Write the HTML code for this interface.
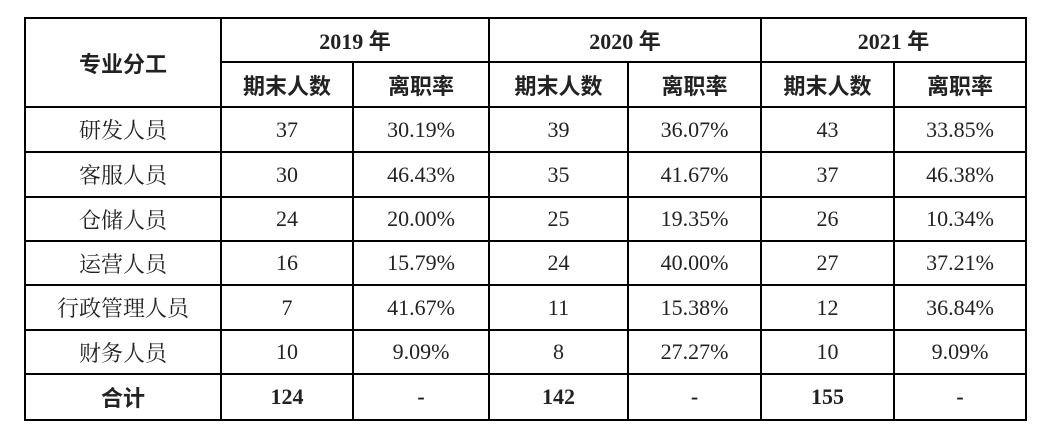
<!DOCTYPE html>
<html><head><meta charset="utf-8"><style>
html,body{margin:0;padding:0;background:#fff;width:1064px;height:432px;overflow:hidden}
table{position:absolute;left:24px;top:17px;border-collapse:collapse;table-layout:fixed;font-family:"Liberation Serif","Noto Serif CJK SC",serif;font-size:22px;color:#222}
td{border:2px solid #000;text-align:center;padding:0;vertical-align:middle}
.b{font-weight:bold;font-family:"Liberation Serif","Noto Sans CJK SC",sans-serif}
.h{font-weight:bold;font-family:"Noto Sans CJK SC",sans-serif}
</style></head><body>
<table>
<colgroup><col style="width:196px"><col style="width:132px"><col style="width:136px"><col style="width:139px"><col style="width:133px"><col style="width:133px"><col style="width:132px"></colgroup>
<tr style="height:44px"><td rowspan="2" class="h">专业分工</td><td colspan="2" class="b">2019 年</td><td colspan="2" class="b">2020 年</td><td colspan="2" class="b">2021 年</td></tr>
<tr style="height:45px"><td class="h">期末人数</td><td class="h">离职率</td><td class="h">期末人数</td><td class="h">离职率</td><td class="h">期末人数</td><td class="h">离职率</td></tr>
<tr style="height:45px"><td>研发人员</td><td>37</td><td>30.19%</td><td>39</td><td>36.07%</td><td>43</td><td>33.85%</td></tr>
<tr style="height:45px"><td>客服人员</td><td>30</td><td>46.43%</td><td>35</td><td>41.67%</td><td>37</td><td>46.38%</td></tr>
<tr style="height:44px"><td>仓储人员</td><td>24</td><td>20.00%</td><td>25</td><td>19.35%</td><td>26</td><td>10.34%</td></tr>
<tr style="height:44px"><td>运营人员</td><td>16</td><td>15.79%</td><td>24</td><td>40.00%</td><td>27</td><td>37.21%</td></tr>
<tr style="height:45px"><td>行政管理人员</td><td>7</td><td>41.67%</td><td>11</td><td>15.38%</td><td>12</td><td>36.84%</td></tr>
<tr style="height:44px"><td>财务人员</td><td>10</td><td>9.09%</td><td>8</td><td>27.27%</td><td>10</td><td>9.09%</td></tr>
<tr style="height:46px"><td class="h">合计</td><td class="b">124</td><td class="b">-</td><td class="b">142</td><td class="b">-</td><td class="b">155</td><td class="b">-</td></tr>
</table>
</body></html>
